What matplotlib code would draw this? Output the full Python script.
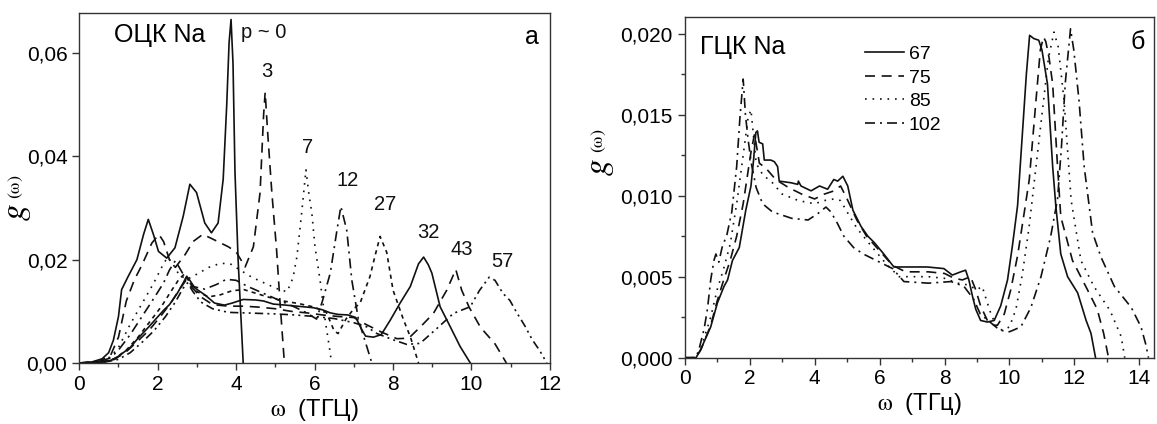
"""Фононные плотности состояний g(w) натрия:
а) ОЦК Na при разных давлениях, б) ГЦК Na"""

import matplotlib
matplotlib.use("Agg")
import matplotlib.pyplot as plt
from matplotlib.ticker import MultipleLocator, FuncFormatter

plt.rcParams['font.family'] = ['Liberation Sans', 'DejaVu Sans']
plt.rcParams['mathtext.fontset'] = 'stix'

# ---------- а) ОЦК Na: (частота, g) для каждого давления ----------
bcc_p0_w = [0, 0.32, 0.58, 0.75, 0.87, 1.0, 1.08, 1.25, 1.47, 1.64, 1.76, 1.89, 2.02, 2.23, 2.44, 2.65, 2.82, 2.99,
            3.2, 3.37, 3.54, 3.67, 3.76, 3.82, 3.87, 3.92, 3.97, 4.05, 4.18]
bcc_p0_g = [0, 0.0002, 0.0008, 0.002, 0.0044, 0.009, 0.0142, 0.0168, 0.020, 0.0249, 0.0278, 0.0249, 0.0216, 0.0203,
            0.0223, 0.0284, 0.0346, 0.033, 0.0271, 0.0252, 0.0271, 0.0356, 0.050, 0.062, 0.0665, 0.058, 0.037, 0.020, 0]

bcc_p3_w = [0, 0.5, 0.8, 1.0, 1.2, 1.4, 1.6, 1.85, 2.03, 2.15, 2.3, 2.45, 2.7, 2.9, 3.15, 3.4, 3.8, 4.0, 4.23, 4.44,
            4.61, 4.7, 4.74, 4.8, 4.91, 5.03, 5.12, 5.23]
bcc_p3_g = [0, 0.0003, 0.0015, 0.005, 0.012, 0.016, 0.019, 0.0232, 0.0249, 0.0235, 0.020, 0.0185, 0.021, 0.0235,
            0.0249, 0.024, 0.0225, 0.0215, 0.0186, 0.0225, 0.033, 0.048, 0.0524, 0.045, 0.033, 0.022, 0.0116, 0]

bcc_p7_w = [0, 0.5, 0.8, 1.0, 1.3, 1.6, 1.9, 2.1, 2.25, 2.4, 2.55, 2.75, 3.0, 3.3, 3.6, 3.85, 4.1, 4.4, 4.8, 5.1,
            5.3, 5.45, 5.55, 5.67, 5.78, 5.85, 5.93, 6.01, 6.14, 6.27, 6.4, 6.43]
bcc_p7_g = [0, 0.0002, 0.0012, 0.003, 0.0075, 0.0115, 0.0155, 0.0185, 0.0205, 0.019, 0.017, 0.0162, 0.0172, 0.0185,
            0.0193, 0.0192, 0.018, 0.0166, 0.0152, 0.0142, 0.0138, 0.0165, 0.0206, 0.029, 0.0374, 0.033, 0.029,
            0.0225, 0.016, 0.0083, 0.0019, 0]

bcc_p12_w = [0, 0.5, 0.8, 1.0, 1.3, 1.6, 1.9, 2.15, 2.3, 2.45, 2.55, 2.7, 2.9, 3.2, 3.5, 3.75, 4.0, 4.3, 4.6, 4.9,
             5.2, 5.5, 5.8, 6.05, 6.2, 6.4, 6.57, 6.67, 6.82, 6.95, 7.12, 7.33, 7.46]
bcc_p12_g = [0, 0.0002, 0.001, 0.0025, 0.0055, 0.009, 0.0125, 0.0155, 0.018, 0.0198, 0.0185, 0.0165, 0.0148,
             0.0143, 0.0152, 0.0162, 0.016, 0.0148, 0.0138, 0.0128, 0.0118, 0.0108, 0.0097, 0.0085, 0.012, 0.0174,
             0.0257, 0.0303, 0.0257, 0.016, 0.0083, 0.0032, 0]

bcc_p27_w = [0, 0.55, 0.9, 1.2, 1.5, 1.8, 2.1, 2.35, 2.55, 2.68, 2.8, 3.0, 3.3, 3.6, 3.9, 4.2, 4.5, 4.8, 5.2, 5.6,
             6.0, 6.3, 6.5, 6.6, 6.8, 7.0, 7.16, 7.41, 7.55, 7.67, 7.84, 8.0, 8.27, 8.44, 8.65]
bcc_p27_g = [0, 0.0001, 0.0008, 0.0025, 0.005, 0.008, 0.011, 0.014, 0.0163, 0.0172, 0.0158, 0.0138, 0.0128,
             0.0132, 0.014, 0.0142, 0.0135, 0.0128, 0.012, 0.0115, 0.0108, 0.0098, 0.0062, 0.0057, 0.0085, 0.0105,
             0.0116, 0.0167, 0.021, 0.0245, 0.0214, 0.0141, 0.0083, 0.0051, 0]

bcc_p32_w = [0, 0.5, 0.8, 1.0, 1.3, 1.5, 1.75, 1.95, 2.15, 2.3, 2.5, 2.65, 2.74, 2.82, 2.95, 3.2, 3.45, 3.7, 3.9,
             4.18, 4.5, 4.7, 4.95, 5.12, 5.55, 5.97, 6.2, 6.4, 6.6, 6.85, 7.05, 7.2, 7.3, 7.5, 7.7, 7.93, 8.18,
             8.44, 8.65, 8.78, 8.9, 8.99, 9.2, 9.46, 9.71, 9.97]
bcc_p32_g = [0, 0.0001, 0.0005, 0.0013, 0.003, 0.0048, 0.0068, 0.0085, 0.0102, 0.0113, 0.0135, 0.0155, 0.0168,
             0.016, 0.0145, 0.0132, 0.0116, 0.0112, 0.0116, 0.0123, 0.0122, 0.012, 0.0114, 0.0113, 0.011, 0.0107,
             0.0103, 0.0097, 0.0094, 0.0093, 0.0088, 0.0065, 0.0052, 0.005, 0.0055, 0.0083, 0.0116, 0.0148,
             0.0192, 0.0205, 0.019, 0.0174, 0.0109, 0.007, 0.0032, 0]

bcc_p43_w = [0, 0.55, 0.9, 1.2, 1.5, 1.8, 2.1, 2.35, 2.55, 2.72, 2.85, 3.1, 3.4, 3.8, 4.2, 4.6, 5.0, 5.4, 5.8, 6.2,
             6.6, 7.0, 7.3, 7.7, 8.1, 8.4, 8.7, 9.03, 9.37, 9.6, 9.75, 9.94, 10.23, 10.6, 10.89]
bcc_p43_g = [0, 0.0001, 0.0007, 0.0022, 0.0043, 0.0065, 0.0093, 0.0118, 0.0142, 0.016, 0.0148, 0.0128, 0.0113,
             0.011, 0.011, 0.0108, 0.0105, 0.010, 0.0097, 0.0093, 0.009, 0.0088, 0.0075, 0.006, 0.0047, 0.0048,
             0.007, 0.0096, 0.0141, 0.0181, 0.0141, 0.0108, 0.0069, 0.0037, 0]

bcc_p57_w = [0, 0.6, 1.0, 1.3, 1.6, 1.9, 2.2, 2.45, 2.65, 2.76, 2.9, 3.1, 3.4, 3.8, 4.2, 4.6, 5.0, 5.5, 6.0, 6.5,
             7.0, 7.33, 7.59, 8.0, 8.35, 8.69, 9.12, 9.54, 9.97, 10.2, 10.45, 10.6, 10.8, 10.98, 11.15, 11.36,
             11.55, 11.74, 11.92]
bcc_p57_g = [0, 0.0001, 0.0007, 0.002, 0.004, 0.0062, 0.009, 0.0118, 0.0145, 0.0155, 0.0138, 0.0118, 0.0105,
             0.0098, 0.0097, 0.0096, 0.0095, 0.0093, 0.009, 0.0086, 0.0078, 0.007, 0.0057, 0.0045, 0.0036, 0.0038,
             0.0067, 0.0096, 0.0109, 0.014, 0.0166, 0.016, 0.0135, 0.0121, 0.0098, 0.0072, 0.0045, 0.0024, 0]

bcc_labels = ['p ~ 0', '3', '7', '12', '27', '32', '43', '57']
# подписи ставятся над пиками
bcc_label_w = [4.69, 4.78, 5.83, 6.83, 7.8, 8.9, 9.76, 10.8]
bcc_label_g = [0.0639, 0.0564, 0.0418, 0.0354, 0.0306, 0.0252, 0.0219, 0.0196]

# ---------- б) ГЦК Na ----------
fcc_67_w = [0, 0.35, 0.49, 0.8, 1.01, 1.21, 1.32, 1.47, 1.68, 1.88, 2.04, 2.12, 2.19, 2.24, 2.29, 2.4, 2.45, 2.65,
            2.76, 2.86, 2.91, 3.27, 3.48, 3.5, 3.58, 3.89, 4.15, 4.4, 4.59, 4.71, 4.87, 5.02, 5.18, 5.43, 5.64,
            5.84, 6.13, 6.44, 6.95, 7.47, 7.98, 8.24, 8.5, 8.65, 8.75, 8.86, 8.96, 9.11, 9.32, 9.53, 9.73, 9.94,
            10.09, 10.25, 10.4, 10.52, 10.62, 10.75, 10.9, 11.0, 11.17, 11.33, 11.43, 11.58, 11.79, 12.1, 12.36,
            12.51, 12.65]
fcc_67_g = [0, 0, 0.0005, 0.0019, 0.0034, 0.0044, 0.0048, 0.006, 0.0068, 0.0091, 0.0106, 0.0122, 0.0139, 0.014,
            0.0133, 0.0132, 0.0122, 0.0122, 0.0121, 0.0118, 0.0109, 0.0108, 0.0107, 0.0109, 0.0106, 0.0103, 0.0106,
            0.0104, 0.011, 0.0109, 0.0112, 0.0106, 0.0091, 0.0081, 0.0075, 0.0071, 0.0064, 0.0056, 0.0056, 0.0056,
            0.0055, 0.0051, 0.0053, 0.0054, 0.0048, 0.0038, 0.003, 0.0023, 0.0022, 0.0023, 0.0032, 0.0048, 0.0069,
            0.0094, 0.0139, 0.0175, 0.0199, 0.0197, 0.0196, 0.019, 0.0169, 0.0118, 0.0093, 0.0064, 0.005, 0.004,
            0.0023, 0.0015, 0]

fcc_75_w = [0, 0.35, 0.5, 0.8, 1.0, 1.2, 1.4, 1.6, 1.8, 1.95, 2.05, 2.15, 2.3, 2.5, 2.8, 3.2, 3.6, 4.0, 4.3, 4.6,
            4.8, 5.0, 5.3, 5.6, 6.0, 6.4, 6.8, 7.5, 8.0, 8.3, 8.55, 8.8, 8.96, 9.11, 9.32, 9.53, 9.63, 9.84,
            10.04, 10.25, 10.45, 10.61, 10.8, 10.95, 11.05, 11.12, 11.22, 11.33, 11.48, 11.58, 11.94, 12.4,
            12.7, 12.9, 13.05]
fcc_75_g = [0, 0, 0.0005, 0.002, 0.0035, 0.0048, 0.006, 0.0075, 0.0095, 0.0115, 0.0128, 0.0138, 0.012, 0.0117,
            0.011, 0.0105, 0.0101, 0.0098, 0.0101, 0.0103, 0.0106, 0.0098, 0.0085, 0.0075, 0.0066, 0.0057, 0.0053,
            0.0053, 0.0052, 0.0049, 0.0048, 0.005, 0.0042, 0.0032, 0.0023, 0.002, 0.002, 0.0027, 0.0042, 0.0063,
            0.0089, 0.011, 0.0155, 0.019, 0.0198, 0.0195, 0.0185, 0.0169, 0.0118, 0.0087, 0.006, 0.0042, 0.003,
            0.0015, 0]

fcc_85_w = [0, 0.35, 0.5, 0.8, 1.0, 1.2, 1.4, 1.6, 1.8, 1.95, 2.04, 2.2, 2.4, 2.7, 3.0, 3.5, 4.0, 4.3, 4.6, 4.8,
            5.0, 5.3, 5.7, 6.2, 6.6, 7.0, 7.5, 8.0, 8.4, 8.7, 9.0, 9.16, 9.3, 9.43, 9.63, 9.8, 10.0, 10.2, 10.4,
            10.6, 10.8, 11.0, 11.2, 11.37, 11.5, 11.68, 11.9, 12.2, 12.6, 13.1, 13.44, 13.55]
fcc_85_g = [0, 0, 0.0006, 0.0025, 0.0042, 0.0055, 0.007, 0.0095, 0.0125, 0.0148, 0.0153, 0.012, 0.0113, 0.0108,
            0.0101, 0.0097, 0.0095, 0.0097, 0.0098, 0.0097, 0.009, 0.008, 0.007, 0.0058, 0.005, 0.005, 0.005, 0.0049,
            0.0046, 0.0045, 0.0042, 0.0044, 0.0035, 0.0027, 0.0018, 0.0017, 0.0019, 0.003, 0.0052, 0.008, 0.0115,
            0.015, 0.0185, 0.0201, 0.0192, 0.0159, 0.0097, 0.006, 0.0044, 0.0029, 0.0013, 0]

fcc_102_w = [0, 0.35, 0.45, 0.6, 0.7, 0.8, 0.9, 0.96, 1.05, 1.15, 1.3, 1.45, 1.6, 1.7, 1.8, 1.87, 1.95, 2.05, 2.2,
             2.4, 2.7, 3.0, 3.3, 3.8, 4.1, 4.35, 4.5, 4.7, 4.9, 5.2, 5.5, 5.8, 6.0, 6.4, 6.75, 7.5, 8.2, 8.6, 8.9,
             9.1, 9.4, 9.7, 10.0, 10.35, 10.66, 10.97, 11.27, 11.48, 11.6, 11.72, 11.88, 11.98, 12.14, 12.3,
             12.56, 12.82, 13.23, 13.75, 14.05, 14.2, 14.28]
fcc_102_g = [0, 0, 0.0006, 0.0018, 0.003, 0.0048, 0.006, 0.0064, 0.0059, 0.0068, 0.0076, 0.009, 0.0118, 0.0148,
             0.0172, 0.015, 0.0135, 0.012, 0.0105, 0.0095, 0.009, 0.0088, 0.0086, 0.0085, 0.0089, 0.0093, 0.009,
             0.0083, 0.0075, 0.0068, 0.0064, 0.0061, 0.0059, 0.0055, 0.0047, 0.0046, 0.0047, 0.0044, 0.0036,
             0.0027, 0.0022, 0.0017, 0.0016, 0.0019, 0.0031, 0.005, 0.0075, 0.0098, 0.013, 0.017, 0.0203, 0.019,
             0.0159, 0.0118, 0.0077, 0.0062, 0.0044, 0.0031, 0.0019, 0.0008, 0]

fcc_labels = ['67', '75', '85', '102']

# стили линий
solid = '-'
dashed = (0, (6, 4))
dotted = (0, (1, 3.5))
dashdot = (0, (6, 3, 1.2, 3))
shortdash = (0, (2.5, 2.5))
dashdotdot = (0, (5, 2.5, 1.2, 2.5, 1.2, 2.5))

lw = 1.2
col = '#111111'
omega = r'$\mathrm{\omega}$'


def comma(fmt):
    return FuncFormatter(lambda v, pos: fmt.format(v).replace('.', ','))


def style_axes(ax):
    for s in ax.spines.values():
        s.set_linewidth(1.0)
        s.set_color('#333333')
    ax.tick_params(which='both', direction='out', labelsize=15, width=1.0, color='#333333')
    ax.tick_params(which='major', length=5)
    ax.tick_params(which='minor', length=3)


def ylabel_g(ax, x, y):
    # "g" крупно курсивом, "(w)" мелко прямым шрифтом
    ax.text(x, y, r'$g$', transform=ax.transAxes, fontsize=24, rotation=90, ha='center', va='center')
    ax.text(x - 0.002, y + 0.075, r'$\mathrm{(\omega)}$', transform=ax.transAxes, fontsize=13, rotation=90,
            ha='center', va='center')


fig = plt.figure(figsize=(11.57, 4.24), dpi=100)
ax1 = fig.add_axes([0.0685, 0.1439, 0.4068, 0.8248])
ax2 = fig.add_axes([0.5918, 0.1564, 0.4056, 0.8042])

# ---- панель а ----
bcc = [(bcc_p0_w, bcc_p0_g, solid), (bcc_p3_w, bcc_p3_g, dashed), (bcc_p7_w, bcc_p7_g, dotted),
       (bcc_p12_w, bcc_p12_g, dashdot), (bcc_p27_w, bcc_p27_g, shortdash), (bcc_p32_w, bcc_p32_g, solid),
       (bcc_p43_w, bcc_p43_g, dashed), (bcc_p57_w, bcc_p57_g, dashdotdot)]
for w, g, ls in bcc:
    ax1.plot(w, g, color=col, lw=lw, linestyle=ls)

for lab, xw, yg in zip(bcc_labels, bcc_label_w, bcc_label_g):
    ax1.text(xw, yg, lab, fontsize=14.5, ha='center', va='center', color='#111111')

ax1.set_xlim(0, 12)
ax1.set_ylim(0, 0.0677)
ax1.xaxis.set_major_locator(MultipleLocator(2))
ax1.xaxis.set_minor_locator(MultipleLocator(1))
ax1.yaxis.set_major_locator(MultipleLocator(0.02))
ax1.yaxis.set_major_formatter(comma('{:.2f}'))
style_axes(ax1)
ax1.text(0.074, 0.938, 'ОЦК Na', transform=ax1.transAxes, fontsize=18, ha='left', va='center')
ax1.text(0.961, 0.933, 'а', transform=ax1.transAxes, fontsize=18, ha='center', va='center')
ax1.set_xlabel(omega + '  (ТГЦ)', fontsize=17, labelpad=2)
ylabel_g(ax1, -0.132, 0.43)

# ---- панель б ----
fcc = [(fcc_67_w, fcc_67_g, solid), (fcc_75_w, fcc_75_g, dashed), (fcc_85_w, fcc_85_g, dotted),
       (fcc_102_w, fcc_102_g, dashdot)]
for (w, g, ls), lab in zip(fcc, fcc_labels):
    ax2.plot(w, g, color=col, lw=lw, linestyle=ls, label=lab)

ax2.set_xlim(0, 14.45)
ax2.set_ylim(0, 0.02105)
ax2.xaxis.set_major_locator(MultipleLocator(2))
ax2.xaxis.set_minor_locator(MultipleLocator(1))
ax2.yaxis.set_major_locator(MultipleLocator(0.005))
ax2.yaxis.set_minor_locator(MultipleLocator(0.0025))
ax2.yaxis.set_major_formatter(comma('{:.3f}'))
style_axes(ax2)
ax2.text(0.033, 0.912, 'ГЦК Na', transform=ax2.transAxes, fontsize=18, ha='left', va='center')
ax2.text(0.966, 0.927, 'б', transform=ax2.transAxes, fontsize=18, ha='center', va='center')
ax2.set_xlabel(omega + '  (ТГц)', fontsize=17, labelpad=2)
ylabel_g(ax2, -0.18, 0.56)
ax2.legend(loc='upper left', bbox_to_anchor=(0.384, 0.915), frameon=False, fontsize=14,
           handlelength=2.0, handletextpad=0.25, labelspacing=0.3, borderpad=0, borderaxespad=0)

fig.savefig('out.png', dpi=100)
